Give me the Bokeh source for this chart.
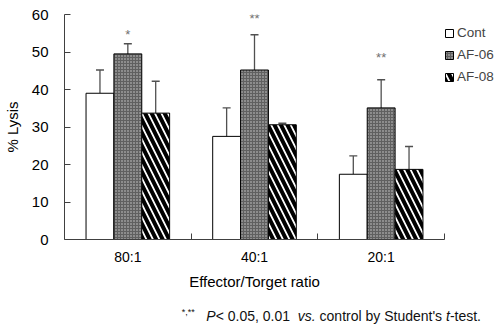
from bokeh.plotting import figure
from bokeh.models import (ColumnDataSource, FixedTicker, Whisker, TeeHead, Div, Range1d, Legend)
from bokeh.layouts import column
from bokeh.core.properties import value
from bokeh.embed import file_html
from bokeh.resources import INLINE

categories = ["80:1", "40:1", "20:1"]
series = ["Cont", "AF-06", "AF-08"]
cont = [39.0, 27.5, 17.4]
cont_err = [45.2, 35.1, 22.3]
af06 = [49.5, 45.2, 35.1]
af06_err = [52.2, 54.6, 42.6]
af08 = [33.7, 30.6, 18.7]
af08_err = [42.2, 31.0, 24.8]
star_text = ["*", "**", "**"]
star_y = [54.6, 59.0, 48.6]
y_ticks = [0, 10, 20, 30, 40, 50, 60]

FONT = "Liberation Sans"
centers = [i + 0.5 for i in range(len(categories))]
offsets = [-0.22, 0.0, 0.22]
bw = 0.22

p = figure(frame_width=380, frame_height=225, output_backend="svg", toolbar_location=None,
           x_range=Range1d(0, 3), y_range=Range1d(0, 60),
           min_border_left=59, min_border_right=0, min_border_top=14, min_border_bottom=10)
p.outline_line_color = None
p.grid.visible = False
p.background_fill_color = "white"

vals = [cont, af06, af08]
errs = [cont_err, af06_err, af08_err]
styles = [
    dict(fill_color="white"),
    dict(fill_color="#606060", hatch_pattern="dot", hatch_color="#cfcfcf", hatch_scale=3, hatch_weight=1),
    dict(fill_color="white", hatch_pattern="left_diagonal_line", hatch_color="black", hatch_scale=13, hatch_weight=4),
]
items = []
for k in range(3):
    xs = [c + offsets[k] for c in centers]
    src = ColumnDataSource(dict(x=xs, top=vals[k], up=errs[k]))
    r = p.vbar(x="x", top="top", width=bw, source=src, line_color="black", line_width=1, **styles[k])
    items.append((series[k], [r]))
    w = Whisker(base="x", lower="top", upper="up", source=src, dimension="height",
                line_color="#505050", line_width=1.3,
                upper_head=TeeHead(size=8, line_color="#505050", line_width=1.3), lower_head=None)
    p.add_layout(w)

p.text(x=[c + offsets[1] for c in centers], y=star_y, text=star_text,
       text_font=value(FONT), text_font_size="13px", text_color="#707070",
       text_align="center", text_baseline="middle")

# axes
p.yaxis.ticker = FixedTicker(ticks=y_ticks)
p.yaxis.major_tick_in = 6
p.yaxis.major_tick_out = 0
p.yaxis.minor_tick_line_color = None
p.yaxis.major_label_standoff = 16
p.yaxis.axis_label = "% Lysis"
p.yaxis.axis_label_standoff = 8

p.xaxis.ticker = FixedTicker(ticks=centers, minor_ticks=[1, 2, 3])
p.xaxis.major_label_overrides = {c: lab for c, lab in zip(centers, categories)}
p.xaxis.major_tick_in = 0
p.xaxis.major_tick_out = 0
p.xaxis.minor_tick_in = 6
p.xaxis.minor_tick_out = 0
p.xaxis.major_label_standoff = 9
p.xaxis.axis_label = "Effector/Torget ratio"
p.xaxis.axis_label_standoff = 5

for ax in (p.xaxis, p.yaxis):
    ax.axis_line_color = "#404040"
    ax.major_label_text_font = FONT
    ax.major_label_text_color = "black"
    ax.axis_label_text_font = FONT
    ax.axis_label_text_font_style = "normal"
    ax.axis_label_text_color = "black"
    ax.axis_label_text_font_size = "15px"
p.yaxis.major_tick_line_color = "#404040"
p.xaxis.major_tick_line_color = None
p.xaxis.minor_tick_line_color = "#404040"
p.yaxis.major_label_text_font_size = "15px"
p.xaxis.major_label_text_font_size = "14px"

lg = Legend(items=items, location=(0, 155))
lg.border_line_color = None
lg.background_fill_alpha = 0
lg.padding = 0
lg.margin = 0
lg.spacing = 7
lg.glyph_width = 10
lg.glyph_height = 10
lg.label_height = 14
lg.label_standoff = 3
lg.label_text_font = FONT
lg.label_text_font_size = "13.5px"
p.add_layout(lg, "right")

foot = Div(text=('<div style="font-family:\'Liberation Sans\';font-size:14px;line-height:14px;color:#111;'
                 'text-align:right;width:476px;padding-top:8px;white-space:nowrap;">'
                 '<sup style="font-size:9px">*,**</sup>&nbsp;&nbsp;&nbsp;<i>P</i>&lt; 0.05, 0.01&nbsp;&nbsp;<i>vs.</i> control by Student\'s '
                 '<i>t</i>-test.</div>'), width=478, height=26)

layout = column(p, foot, spacing=0)
open("out.html", "w").write(file_html(layout, INLINE))
